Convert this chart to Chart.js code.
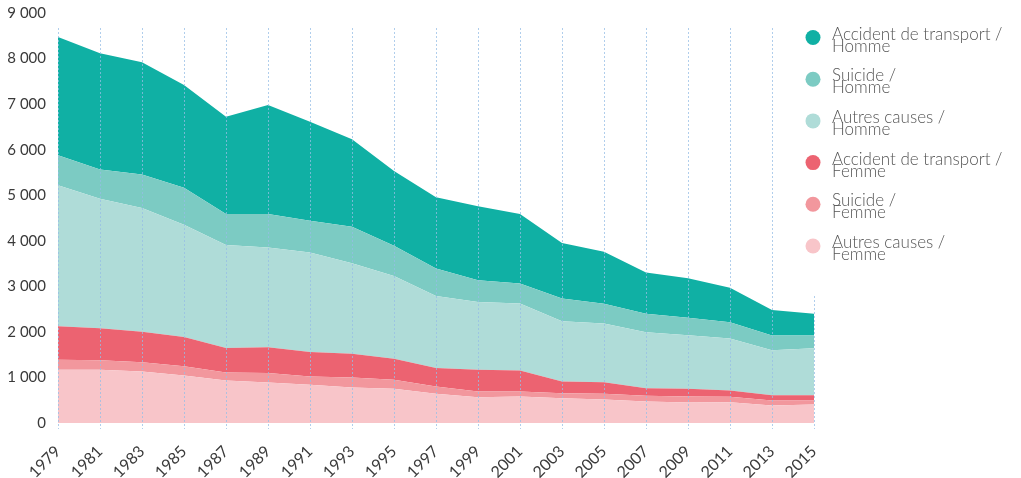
<!DOCTYPE html>
<html lang="fr">
<head>
<meta charset="utf-8">
<script src="https://cdn.jsdelivr.net/npm/chart.js@4.4.1/dist/chart.umd.min.js"></script>
<style>
  html, body { margin: 0; padding: 0; background: #ffffff; }
  #wrap { width: 1021px; height: 478px; position: relative; }
</style>
</head>
<body>
<div id="wrap"><canvas id="chart" width="1021" height="478"></canvas></div>
<script>
// Années (une valeur tous les deux ans)
const years = ['1979','1981','1983','1985','1987','1989','1991','1993','1995','1997',
               '1999','2001','2003','2005','2007','2009','2011','2013','2015'];

// Femmes
const autresFemme    = [1169,1169,1132,1044,934,890,838,779,750,640,567,580,545,515,470,448,455,382,405];
const suicideFemme   = [221,206,199,199,176,206,184,221,199,161,124,111,110,125,130,132,120,113,90];
const transportFemme = [735,706,670,647,537,566,537,522,463,405,478,463,256,257,165,170,138,115,115];

// Hommes
const autresHomme    = [3096,2839,2720,2463,2258,2192,2184,1986,1816,1581,1485,1471,1324,1287,1227,1176,1140,985,1029];
const suicideHomme   = [654,646,735,809,684,735,698,801,662,603,479,435,500,434,406,383,360,324,280];
const transportHomme = [2596,2552,2464,2257,2133,2389,2170,1919,1640,1567,1625,1529,1214,1139,904,868,758,559,479];

const yTicks = [0,1000,2000,3000,4000,5000,6000,7000,8000,9000];

const FONT = "Lato, 'Open Sans', sans-serif";

function area(label, data, color, fill) {
  return {
    label: label,
    data: data,
    backgroundColor: color,
    borderWidth: 0,
    pointRadius: 0,
    pointHoverRadius: 0,
    tension: 0,
    fill: fill
  };
}

// Séries empilées, de bas en haut
const datasets = [
  area('Autres causes /\nFemme', autresFemme, '#f8c5c9', 'origin'),
  area('Suicide /\nFemme', suicideFemme, '#f2979d', '-1'),
  area('Accident de transport /\nFemme', transportFemme, '#ec6371', '-1'),
  area('Autres causes /\nHomme', autresHomme, '#afdcd8', '-1'),
  area('Suicide /\nHomme', suicideHomme, '#7ccbc3', '-1'),
  area('Accident de transport /\nHomme', transportHomme, '#10b0a4', '-1')
];

// Lignes verticales pointillées à chaque année affichée
const dashedGrid = {
  id: 'dashedGrid',
  afterDatasetsDraw(chart) {
    const ctx = chart.ctx;
    const xs = chart.scales.x;
    const area = chart.chartArea;
    ctx.save();
    ctx.strokeStyle = 'rgba(150,190,230,0.75)';
    ctx.lineWidth = 1;
    ctx.setLineDash([2, 2]);
    xs.ticks.forEach((t, i) => {
      const x = Math.round(xs.getPixelForTick(i)) + 0.5;
      ctx.beginPath();
      ctx.moveTo(x, area.top + 15);
      ctx.lineTo(x, area.bottom + 6);
      ctx.stroke();
    });
    ctx.restore();
  }
};

// Légende à droite, ronds de couleur et libellés sur deux lignes
const sideLegend = {
  id: 'sideLegend',
  afterDraw(chart) {
    const ctx = chart.ctx;
    ctx.save();
    ctx.fillStyle = '#ffffff';
    ctx.fillRect(798, 0, 1021 - 798, 295);
    const items = chart.data.datasets.slice().reverse();
    ctx.font = '300 17px ' + FONT;
    ctx.textBaseline = 'alphabetic';
    ctx.textAlign = 'left';
    items.forEach((ds, i) => {
      const cy = 37.5 + i * 41.7;
      ctx.fillStyle = ds.backgroundColor;
      ctx.beginPath();
      ctx.arc(813, cy, 7.5, 0, Math.PI * 2);
      ctx.fill();
      ctx.fillStyle = '#555555';
      const lines = ds.label.split('\n');
      lines.forEach((ln, j) => {
        ctx.fillText(ln, 832, cy + 2 + j * 12);
      });
    });
    ctx.restore();
  }
};

new Chart(document.getElementById('chart'), {
  type: 'line',
  data: { labels: years, datasets: datasets },
  options: {
    responsive: false,
    animation: false,
    layout: { padding: { top: 10, right: 207, left: 0, bottom: 0 } },
    plugins: {
      legend: { display: false },
      tooltip: { enabled: false }
    },
    scales: {
      x: {
        offset: false,
        grid: { display: false },
        border: { display: false },
        ticks: {
          minRotation: 45,
          maxRotation: 45,
          autoSkip: false,
          padding: 11,
          color: '#3a3a3a',
          font: { family: FONT, size: 16 }
        },
        afterFit(scale) { scale.height = 55; }
      },
      y: {
        stacked: true,
        min: 0,
        max: 9000,
        afterBuildTicks(scale) { scale.ticks = yTicks.map(v => ({ value: v })); },
        grid: { display: false },
        border: { display: false },
        ticks: {
          padding: 4,
          color: '#3a3a3a',
          font: { family: FONT, size: 15 },
          callback: v => String(v).replace(/\B(?=(\d{3})+(?!\d))/g, ' ')
        },
        afterFit(scale) { scale.width = 58; }
      }
    }
  },
  plugins: [dashedGrid, sideLegend]
});
</script>
</body>
</html>
